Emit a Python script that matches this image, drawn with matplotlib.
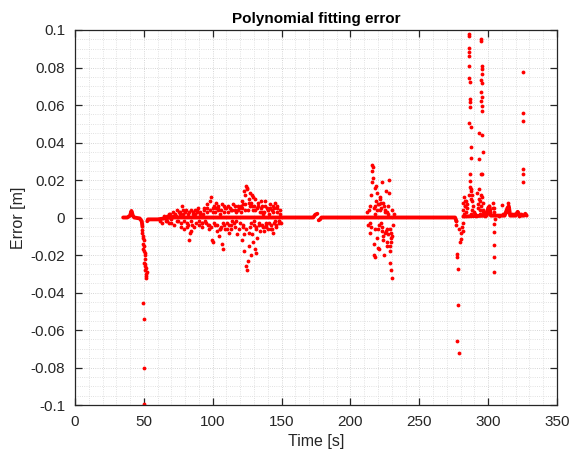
import numpy as np
import matplotlib
matplotlib.use('Agg')
import matplotlib.pyplot as plt
from matplotlib.ticker import MultipleLocator

plt.rcParams['font.family'] = ['Liberation Sans', 'DejaVu Sans']

# Baseline trace (time [s], error [m]); NaN breaks the trace
base_t = [35, 38, 40, 41, 42, 43, 47, 48.5, 49, np.nan,
          52.5, 53, 60, 65, 70, 150, 173, 174.5, 176, np.nan,
          177, 178, 179, 212, 232, 276, 277, np.nan,
          282, 299, 300, 301, 302, 312, 314, 315, 316, 320, 321.5, 323, 326, 327, 328]
base_e = [0, 0, 0.001, 0.0035, 0.001, 0, -0.0005, -0.002, -0.005, np.nan,
          -0.002, -0.001, -0.001, -0.0005, 0, 0, 0, 0.0015, 0.002, np.nan,
          -0.0015, -0.001, 0, 0, 0, 0, -0.002, np.nan,
          0.0005, 0.001, 0.005, 0.006, 0.001, 0.001, 0.005, 0.006, 0.001, 0.001, 0.003, 0.001, 0.001, 0.002, 0.001]

# drop near 50 s
drop_t = [48.6, 49, 49.4, 49.5, 49.8, 50, 50.3, 50.3, 50.5, 50.8, 51, 51.2, 51.4, 51.5, 51.8, 52, 49.4, 50.3, 50.3, 50.0,
          49.2, 49.7, 50.6, 51.1, 51.6]
drop_e = [-0.0064, -0.008, -0.0458, -0.01, -0.012, -0.015, -0.054, -0.018, -0.02, -0.022, -0.025, -0.028, -0.03, -0.031,
          -0.032, -0.029, -0.014, -0.08, -0.0997, -0.024, -0.011, -0.017, -0.026, -0.019, -0.027]

# noisy segment 65-150 s
a_t = [66, 67, 68, 69, 70, 71, 72, 73, 74, 75, 76, 77, 78, 78.5, 79, 80, 81, 82, 83, 83.5, 84, 85, 86, 87, 88, 89,
       90, 91, 92, 93, 94, 95, 96, 97, 98, 99, 99.5, 100,
       100.5, 101, 102, 102.5, 103, 104, 104.5, 105, 106, 106.5, 107, 107.5, 108, 109, 110, 110.5, 111, 112, 113, 114,
       115, 116, 117, 118, 119, 120,
       120.5, 121, 121.5, 122, 122.5, 123, 123.5, 124, 124.5, 125, 125.5, 126, 126.5, 127, 127.5, 128, 128.5, 129,
       129.5, 130, 130.5, 131, 131.5, 132, 132.5, 133, 133.5, 134, 134.5, 135,
       124.8, 125.2, 126.2, 127.8, 129.2, 131.2, 122.8, 123.2, 121.8, 128.2, 130.2, 126.8,
       135.5, 136, 137, 137.5, 138, 139, 139.5, 140, 141, 141.5, 142, 143, 143.5, 144, 145, 145.5, 146, 147, 148, 149,
       76.5, 81.5, 84.5, 88.5, 92.5, 95.5, 97.5, 101.5, 103.5, 105.5, 108.5, 111.5, 113.5, 116.5, 118.5, 136.5, 138.5,
       140.5, 142.5, 144.5, 146.5, 148.5]
a_e = [-0.002, 0.001, -0.003, 0.002, -0.001, 0.003, -0.004, 0.001, 0.004, -0.002, 0.002, -0.005, 0.006, 0.004, -0.006,
       0.003, -0.003, 0.002, -0.012, -0.008, 0.004, -0.004, 0.003, 0.002, -0.003, 0.005,
       -0.002, 0.003, -0.005, 0.002, 0.004, -0.003, 0.007, -0.006, 0.009, 0.011, -0.012, 0.005,
       -0.013, 0.006, -0.004, 0.008, -0.007, 0.004, -0.01, 0.002, -0.005, 0.007, -0.014, -0.017, 0.003, -0.006, 0.005,
       -0.003, 0.006, -0.008, 0.004, -0.002, 0.007, -0.005, 0.003, -0.009, 0.005, -0.003,
       0.006, -0.012, 0.009, -0.005, 0.014, -0.018, 0.012, -0.026, 0.017, 0.016, -0.023, 0.01, -0.015, 0.013, -0.02,
       0.008, -0.009, 0.011, -0.013, 0.006, -0.017, 0.01, -0.006, 0.005, -0.011, 0.008, -0.004, 0.003, -0.007, 0.009,
       -0.028, 0.015, -0.008, -0.003, 0.004, -0.019, -0.009, 0.004, 0.007, 0.012, -0.002, 0.006,
       -0.004, 0.006, -0.007, 0.003, 0.009, -0.003, 0.005, -0.006, 0.002, 0.007, -0.004, 0.004, -0.008, 0.006, -0.002,
       0.008, -0.005, 0.003, -0.003, 0.002,
       0.003, -0.005, -0.007, 0.004, -0.003, 0.005, -0.004, 0.003, 0.005, -0.006, 0.006, -0.004, -0.006, 0.004, 0.006,
       0.002, -0.005, 0.004, -0.006, -0.003, 0.005, -0.002]

# denser band close to zero, 62-150 s
a2_t = [62, 63.5, 65, 66.5, 68, 69.5, 71, 72.5, 74, 75.5, 77, 78.2, 79.5, 80.5, 82, 83, 84.2, 85.5, 86.5, 87.5, 88.8,
        89.8, 91, 92, 93.5, 94.5, 95.8, 96.8, 98, 99, 100.2, 101.2, 102.2, 103.2, 104.2, 105.2, 106.2, 107.2, 108.2,
        109.2, 110.2, 111.2, 112.2, 113.2, 114.2, 115.2, 116.2, 117.2, 118.2, 119.2, 120.2, 121.2, 122.2, 123.8, 124.2,
        125.8, 126.4, 127.2, 128.8, 129.8, 130.8, 131.8, 132.8, 133.8, 134.8, 135.8, 136.8, 137.8, 138.8, 139.8, 140.8,
        141.8, 142.8, 143.8, 144.8, 145.8, 146.8, 147.8, 148.8, 149.5]
a2_e = [-0.002, -0.003, 0.001, -0.002, 0.002, -0.003, 0.001, 0.002, -0.002, 0.003, -0.003, 0.002, -0.002, 0.004,
        -0.004, 0.003, -0.002, 0.002, -0.005, 0.004, 0.003, -0.004, 0.002, -0.003, 0.005, -0.002, 0.003, -0.004, 0.004,
        -0.005, 0.003, -0.003, 0.005, -0.004, 0.006, -0.006, 0.004, -0.003, -0.004, 0.005, -0.006, 0.003, 0.005, -0.004,
        0.004, -0.003, 0.006, -0.002, 0.004, -0.006, 0.003, 0.005, -0.004, 0.007, -0.006, 0.004, 0.008, -0.005, 0.006,
        -0.004, 0.004, -0.005, 0.006, -0.003, 0.005, 0.003, -0.005, 0.006, -0.004, 0.004, -0.003, 0.005, -0.006, 0.003,
        0.005, -0.004, 0.006, -0.002, 0.004, -0.003]

# noisy segment 212-232 s
b_t = [212, 213, 214, 214.5, 215, 215.5, 216, 216.5, 217, 217.5, 218, 218.5, 219, 219.5, 220, 220.5, 221, 221.5, 222,
       222.5, 223, 223.5, 224, 224.5, 225, 225.5, 226, 226.5, 227, 227.5, 228, 228.5, 229, 229.5, 230, 231,
       216.3, 215.8, 218.8, 220.2, 217.2, 221.8, 223.8, 226.8, 228.2, 228.8, 229.2, 224.2, 219.2, 227.2,
       213.5, 215.2, 217.8, 220.8, 222.2, 225.2, 226.2, 229.8, 230.5, 231.5,
       214.2, 216.8, 218.2, 219.8, 221.2, 223.2, 224.8, 226.6, 228.5, 229.6, 230.2, 217.5, 222.8]
b_e = [0.003, -0.004, 0.006, -0.008, 0.012, 0.019, 0.028, 0.021, -0.014, 0.016, -0.021, 0.009, -0.011, 0.013, -0.006,
       0.007, -0.017, 0.011, -0.003, 0.005, 0.019, -0.01, 0.008, -0.02, 0.004, -0.007, 0.014, -0.013, 0.002, -0.009,
       0.02, -0.018, -0.024, -0.028, -0.032, -0.004,
       0.027, 0.025, 0.017, -0.016, -0.02, 0.01, -0.012, -0.015, 0.013, -0.015, -0.011, 0.006, 0.004, 0.006,
       0.004, -0.005, 0.006, -0.004, 0.008, 0.003, -0.006, -0.008, 0.004, 0.002,
       -0.003, 0.005, -0.006, 0.007, 0.004, -0.005, -0.008, 0.003, -0.006, -0.013, -0.01, 0.002, -0.007]

# noisy segment 276-330 s
c_t = [276.5, 277, 277.3, 277.6, 278, 278.2, 277.4, 278.6, 279.2, 279.5, 280, 280.5, 281, 281.5, 282,
       285.8, 285.8, 286, 286, 286, 286.3, 286.3, 286.6, 286.6, 286.8, 286.5, 286, 287.5, 287.5, 287.2,
       286.8, 286.6, 287, 287.2, 287.4,
       294.8, 294.8, 295.4, 295.4, 295.6, 294.6, 295.4, 294.8, 295.6, 295, 295.6, 295.4, 293, 295.8, 296, 293,
       294.6, 295.4, 293.5, 295, 296,
       325.3, 325.3, 325.3, 325.3, 325.3, 325,
       304.2, 304.2, 304.4, 304.4, 304.4,
       281.5, 282, 282.5, 283, 283.5, 284, 284.5, 287.5, 288, 288.5, 289, 292, 292.5, 293.5, 294, 295, 296,
       297, 298, 299, 303.5, 304, 310, 314.4, 321, 320.5,
       282.8, 283.2, 284.2, 285, 286.2, 287.8, 288.2, 289.5, 290.5, 291.5, 292.8, 293.8, 294.4, 295.2, 296.5, 297.5,
       303.8, 304.6, 305, 308, 311, 313, 317, 319, 322.5, 324]
c_e = [-0.002, -0.004, -0.0213, -0.0192, -0.0277, -0.0464, -0.0656, -0.072, -0.006, -0.0133, -0.008, -0.0117, -0.005,
       -0.007, -0.003,
       0.0976, 0.097, 0.0906, 0.088, 0.086, 0.081, 0.0746, 0.0725, 0.0634, 0.0618, 0.059, 0.0506, 0.0485, 0.0378,
       0.032, 0.023, 0.0197, 0.0165, 0.014, 0.01,
       0.0954, 0.094, 0.081, 0.079, 0.0768, 0.0736, 0.072, 0.067, 0.0645, 0.0624, 0.0597, 0.057, 0.0453, 0.0442,
       0.035, 0.031, 0.023, 0.023, 0.015, 0.012, 0.008,
       0.0778, 0.056, 0.0517, 0.026, 0.023, 0.0187,
       -0.0037, -0.0075, -0.0144, -0.0213, -0.0288,
       0.004, 0.008, 0.011, 0.006, 0.009, 0.003, 0.007, 0.015, 0.004, 0.012, 0.006, 0.013, 0.005, 0.01, 0.002,
       0.006, 0.004, 0.003, 0.002, 0.004, 0.008, 0.005, 0.0069, 0.008, 0.0032, 0.002,
       0.002, 0.006, 0.009, 0.005, 0.012, 0.002, 0.009, 0.003, 0.002, 0.001, 0.007, 0.009, 0.004, 0.011, 0.003, 0.001,
       0.005, 0.003, -0.001, 0.001, 0.002, 0.003, 0.002, 0.002, 0.001, 0.002]

fig = plt.figure(figsize=(5.75, 4.58), dpi=100)
ax = fig.add_axes([0.1304, 0.1157, 0.8383, 0.8188])

red = '#ff0000'
ax.plot(base_t, base_e, '-', color=red, lw=2.8, solid_capstyle='round')
for tt, ee in [(drop_t, drop_e), (a_t, a_e), (a2_t, a2_e), (b_t, b_e), (c_t, c_e)]:
    ax.plot(tt, ee, '.', color=red, markersize=5.5, markeredgewidth=0)

ax.set_xlim(0, 350)
ax.set_ylim(-0.1, 0.1)
ax.xaxis.set_major_locator(MultipleLocator(50))
ax.xaxis.set_minor_locator(MultipleLocator(10))
yticks = [-0.1, -0.08, -0.06, -0.04, -0.02, 0, 0.02, 0.04, 0.06, 0.08, 0.1]
ax.set_yticks(yticks)
ax.set_yticklabels(['%g' % v for v in yticks])
ax.yaxis.set_minor_locator(MultipleLocator(0.005))

ax.grid(True, which='major', ls=':', lw=0.6, color='#c8c8c8')
ax.grid(True, which='minor', ls=':', lw=0.6, color='#d8d8d8')
ax.set_axisbelow(True)

dark = '#262626'
for s in ax.spines.values():
    s.set_color(dark)
    s.set_linewidth(0.9)
ax.tick_params(which='major', direction='in', length=5, top=True, right=True,
               colors=dark, labelsize=11, width=0.9, pad=7)
ax.tick_params(which='minor', length=0, top=True, right=True)

ax.set_xlabel('Time [s]', fontsize=11.5, color=dark)
ax.set_ylabel('Error [m]', fontsize=11.5, color=dark, labelpad=3)
ax.set_title('Polynomial fitting error', fontsize=11, fontweight='bold', color='black', pad=5)

fig.savefig('out.png', dpi=100)
